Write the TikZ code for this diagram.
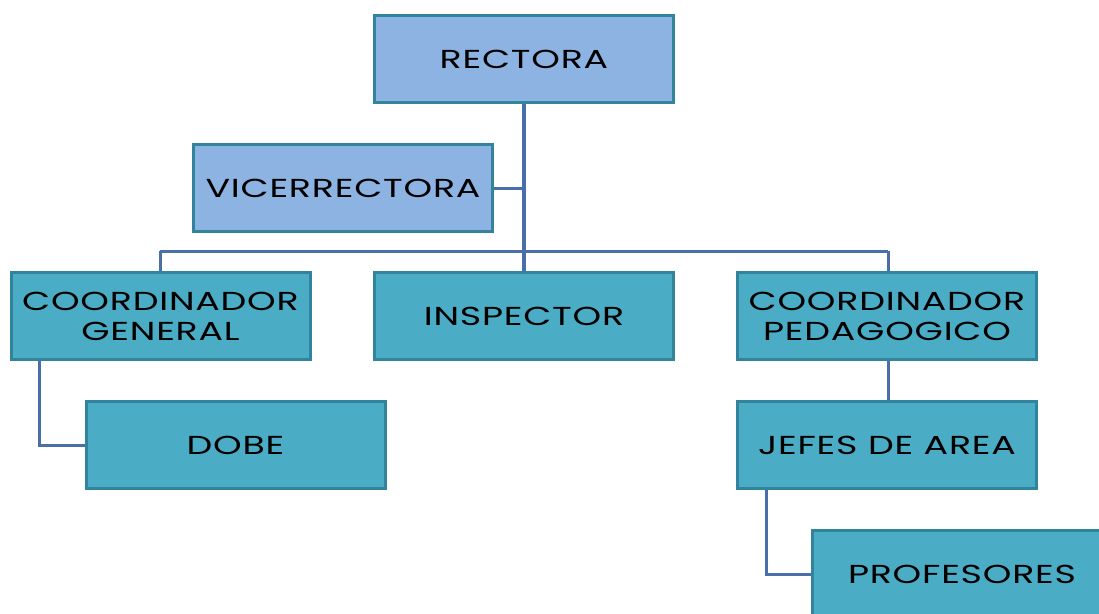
\documentclass[tikz,border=0pt]{standalone}
\usepackage{fontspec}
\setmainfont{Poppins}[FakeStretch=1.4,LetterSpace=3]
\definecolor{lightfill}{HTML}{8DB3E2}
\definecolor{tealfill}{HTML}{4BACC6}
\definecolor{tealborder}{HTML}{31849B}
\definecolor{connblue}{HTML}{4A6FA8}
\tikzset{
  orgbox/.style={draw=tealborder, line width=3pt, minimum width=299pt, minimum height=87pt,
    inner sep=0pt, align=center, font=\fontsize{26}{30}\selectfont, text=black},
  topbox/.style={orgbox, fill=lightfill},
  lowbox/.style={orgbox, fill=tealfill},
  conn/.style={draw=connblue, line width=3pt},
  trunk/.style={draw=connblue, line width=4.5pt}
}
\begin{document}
\begin{tikzpicture}[x=1pt,y=-1pt]
\useasboundingbox (0,0) rectangle (1099,613);
\clip (0,0) rectangle (1099,613);
\coordinate (vj) at (524,188);
\coordinate (bl) at (160,251);
\coordinate (br) at (888,251);
% boxes
\node[topbox] (rect) at (524,59) {RECTORA};
\node[topbox] (vice) at (343,188) {VICERRECTORA};
\node[lowbox] (cg) at (160.5,316) {COORDINADOR\\GENERAL};
\node[lowbox] (insp) at (524,316) {INSPECTOR};
\node[lowbox] (cp) at (887,316) {COORDINADOR\\PEDAGOGICO};
\node[lowbox] (dobe) at (235.5,445) {DOBE};
\node[lowbox] (jefes) at (887,445) {JEFES DE AREA};
\node[lowbox] (prof) at (962,574) {PROFESORES};
% connectors
\draw[trunk] (rect.south) -- (insp.north);
\draw[conn] (vice.east) -- (vj);
\draw[conn] (bl) -- (br);
\draw[conn] (bl) -- (cg.north -| bl);
\draw[conn] (br) -- (cp.north -| br);
\draw[conn] ([xshift=30pt]cg.south west) |- (dobe.west);
\draw[conn] (cp.south -| br) -- (jefes.north -| br);
\draw[conn] ([xshift=30pt]jefes.south west) |- (prof.west);
\end{tikzpicture}
\end{document}
